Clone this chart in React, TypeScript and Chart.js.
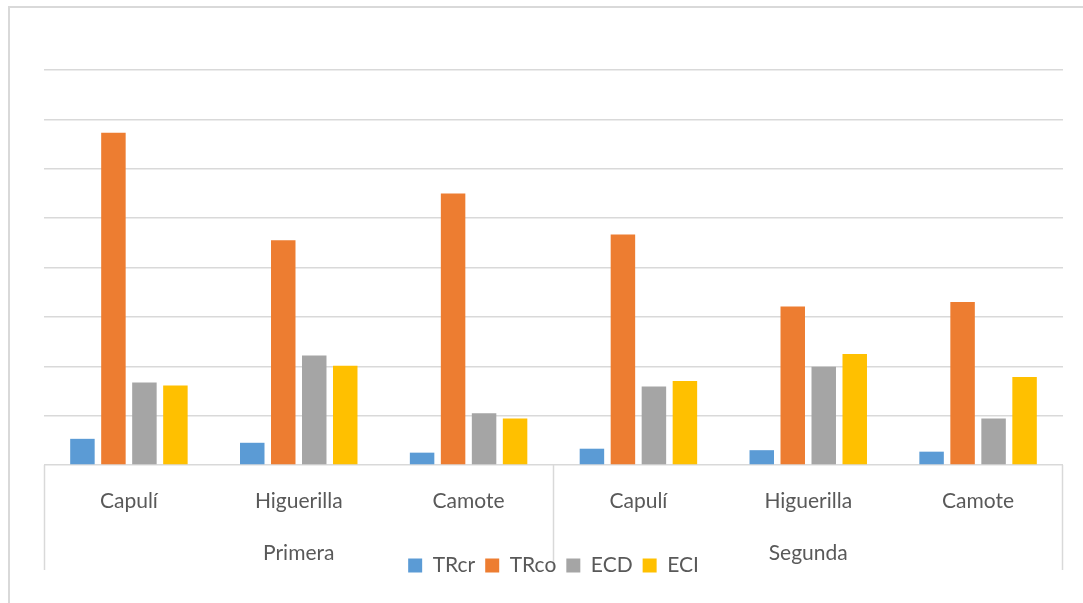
import React, { useEffect, useRef } from "react";
import { Chart, registerables } from "chart.js";

Chart.register(...registerables);

const categories = ["Capulí", "Higuerilla", "Camote", "Capulí", "Higuerilla", "Camote"];
const groups = ["Primera", "Segunda"];
const seriesNames = ["TRcr", "TRco", "ECD", "ECI"];
const seriesColors = ["#5B9BD5", "#ED7D31", "#A5A5A5", "#FFC000"];
const TRcr = [0.53, 0.45, 0.25, 0.33, 0.3, 0.27];
const TRco = [6.73, 4.55, 5.5, 4.67, 3.21, 3.3];
const ECD = [1.67, 2.22, 1.05, 1.59, 1.99, 0.94];
const ECI = [1.61, 2.01, 0.94, 1.7, 2.25, 1.78];
const yMin = 0;
const yMax = 8;
const yStep = 1;

const FONT = "Lato, 'Open Sans', sans-serif";
const TEXT = "#595959";
const LINE = "#d9d9d9";

const framePlugin = {
  id: "frameAndBox",
  afterLayout(chart: any) {
    const lg = chart.legend;
    const x2 = chart.scales.x2;
    if (!lg || !x2) return;
    const targetTop = x2.top + 40 - 20;
    const d = lg.top - targetTop;
    lg.top -= d;
    lg.bottom -= d;
  },
  beforeDraw(chart: any) {
    const ctx = chart.ctx;
    const x = chart.scales.x;
    ctx.save();
    ctx.strokeStyle = LINE;
    ctx.lineWidth = 2;
    ctx.strokeRect(9, 7, 2000, 2000);
    const top = chart.chartArea.bottom;
    const bottom = chart.scales.x2.top + 45;
    const mid = (x.getPixelForValue(2) + x.getPixelForValue(3)) / 2;
    ctx.lineWidth = 1.5;
    [x.left + 0.5, mid, x.right - 0.5].forEach((px: number) => {
      ctx.beginPath();
      ctx.moveTo(px, top);
      ctx.lineTo(px, bottom);
      ctx.stroke();
    });
    ctx.restore();
  },
};

export default function App() {
  const ref = useRef<HTMLCanvasElement | null>(null);
  useEffect(() => {
    if (!ref.current) return;
    const values = [TRcr, TRco, ECD, ECI];
    const chart = new Chart(ref.current, {
      type: "bar",
      data: {
        labels: categories,
        datasets: seriesNames.map((name, i) => ({
          label: name,
          data: values[i],
          backgroundColor: seriesColors[i],
          borderWidth: 0,
          categoryPercentage: 0.73,
          barPercentage: 0.79,
        })),
      },
      options: {
        animation: false,
        responsive: false,
        maintainAspectRatio: false,
        layout: { padding: { left: 44, right: 20, top: 70, bottom: -10 } },
        plugins: {
          tooltip: { enabled: false },
          legend: {
            position: "bottom",
            labels: {
              boxWidth: 14,
              boxHeight: 14,
              padding: 10,
              color: TEXT,
              font: { family: FONT, size: 21 },
            },
          },
        },
        scales: {
          x: {
            type: "category",
            labels: categories,
            position: "bottom",
            grid: { display: false, drawTicks: false },
            border: { display: false },
            ticks: {
              color: TEXT,
              font: { family: FONT, size: 21 },
              padding: 24,
              maxRotation: 0,
              autoSkip: false,
            },
            afterFit: (s: any) => {
              s.height = 60;
            },
          },
          x2: {
            type: "category",
            labels: groups,
            position: "bottom",
            offset: true,
            grid: { display: false, drawTicks: false },
            border: { display: false },
            ticks: {
              color: TEXT,
              font: { family: FONT, size: 21 },
              padding: 16,
              maxRotation: 0,
              autoSkip: false,
            },
            afterFit: (s: any) => {
              s.height = 47;
            },
          },
          y: {
            min: yMin,
            max: yMax,
            ticks: { display: false, stepSize: yStep },
            grid: { color: LINE, lineWidth: 1.5, drawTicks: false },
            border: { display: false },
          },
        },
      },
      plugins: [framePlugin],
    });
    return () => chart.destroy();
  }, []);
  return (
    <div style={{ position: "absolute", left: 0, top: 0, width: 1083, height: 603, background: "#fff" }}>
      <canvas ref={ref} width={1083} height={603} style={{ display: "block" }} />
    </div>
  );
}
